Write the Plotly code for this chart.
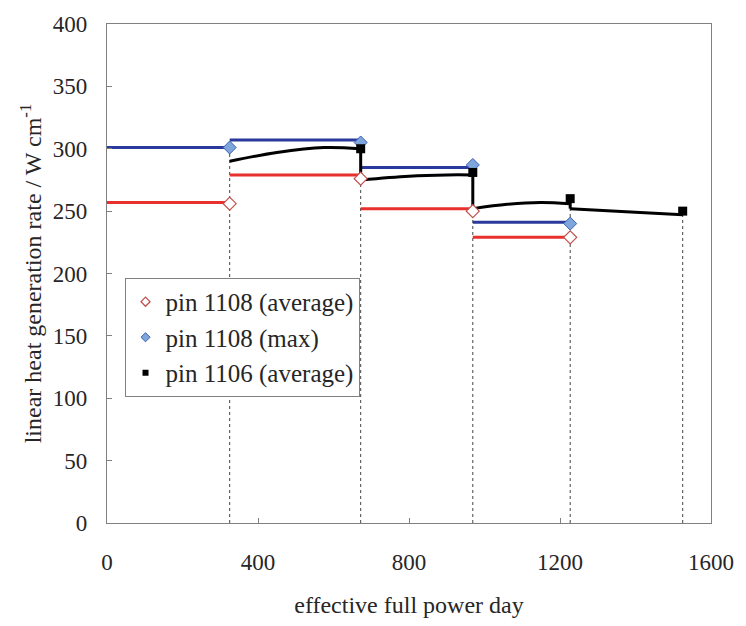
import plotly.graph_objects as go

# Irradiation periods (effective full power days)
period_start = [0, 325, 672, 969]
period_end = [325, 672, 969, 1227]

# pin 1108 linear heat generation rate per period (W/cm)
pin1108_avg = [257, 279, 252, 229]
pin1108_max = [301, 307, 285, 241]

# marker values at the end of each period
pin1108_avg_pts = [256, 276, 250, 229]
pin1108_max_pts = [301, 305, 287, 240]

# pin 1106 average: continuous curve per period
pin1106_curves_x = [
    [325, 450, 575, 672],
    [672, 800, 900, 969],
    [969, 1060, 1148, 1227],
    [1227, 1375, 1525],
]
pin1106_curves_y = [
    [290, 297, 301, 300],
    [275, 278, 279, 279],
    [252, 255.5, 257, 256],
    [252, 249.5, 247],
]
pin1106_pts_x = [672, 969, 1227, 1525]
pin1106_pts_y = [300, 281, 260, 250]

RED = "#e8302c"
BLUE = "#2a3a9c"
SERIF = "Liberation Serif, Times New Roman, serif"
TXT = "#262626"

fig = go.Figure()

# dotted drop lines at period boundaries
boundary = sorted(set(period_end + pin1106_pts_x))
dx, dy = [], []
for b in boundary:
    tops = []
    for i, e in enumerate(period_end):
        if e == b:
            tops += [pin1108_avg_pts[i], pin1108_max_pts[i]]
    for i, e in enumerate(pin1106_pts_x):
        if e == b:
            tops.append(pin1106_pts_y[i])
    dx += [b, b, None]
    dy += [0, max(tops), None]
fig.add_trace(go.Scatter(x=dx, y=dy, mode="lines", showlegend=False,
                         line=dict(color="#444444", width=1, dash="3px,3px"),
                         hoverinfo="skip"))


def step_segments(values):
    xs, ys = [], []
    for s, e, v in zip(period_start, period_end, values):
        xs += [s, e, None]
        ys += [v, v, None]
    return xs, ys


sx, sy = step_segments(pin1108_avg)
fig.add_trace(go.Scatter(x=sx, y=sy, mode="lines", showlegend=False,
                         line=dict(color=RED, width=3)))
sx, sy = step_segments(pin1108_max)
fig.add_trace(go.Scatter(x=sx, y=sy, mode="lines", showlegend=False,
                         line=dict(color=BLUE, width=3)))

# pin 1106 curves and the vertical jumps between periods
for i, (cx, cy) in enumerate(zip(pin1106_curves_x, pin1106_curves_y)):
    fig.add_trace(go.Scatter(x=cx, y=cy, mode="lines", showlegend=False,
                             line=dict(color="black", width=3, shape="spline")))
    if i + 1 < len(pin1106_curves_x):
        jx = pin1106_curves_x[i + 1][0]
        fig.add_trace(go.Scatter(x=[jx, jx],
                                 y=[pin1106_pts_y[i], pin1106_curves_y[i + 1][0]],
                                 mode="lines", showlegend=False,
                                 line=dict(color="black", width=3)))

avg_marker = dict(symbol="diamond", color="white", line=dict(color="#c0504d", width=1.2))
max_marker = dict(symbol="diamond", color="#7fa6dc", line=dict(color="#3a5fb0", width=1))
sq_marker = dict(symbol="square", color="black")

fig.add_trace(go.Scatter(x=period_end, y=pin1108_avg_pts, mode="markers",
                         showlegend=False, marker=dict(size=10, **avg_marker)))
fig.add_trace(go.Scatter(x=period_end, y=pin1108_max_pts, mode="markers",
                         showlegend=False, marker=dict(size=10, **max_marker)))
fig.add_trace(go.Scatter(x=pin1106_pts_x, y=pin1106_pts_y, mode="markers",
                         showlegend=False, marker=dict(size=9, **sq_marker)))

# legend entries with small symbols
for name, mk, sz in [("pin 1108 (average)", avg_marker, 7),
                     ("pin 1108 (max)", max_marker, 7),
                     ("pin 1106 (average)", sq_marker, 6)]:
    fig.add_trace(go.Scatter(x=[None], y=[None], mode="markers", name=name,
                             marker=dict(size=sz, **mk)))

axis_common = dict(showline=True, linecolor="#808080", linewidth=1.2, mirror=True,
                   ticks="inside", ticklen=5, tickcolor="#808080", showgrid=False,
                   zeroline=False, tickfont=dict(family=SERIF, size=23, color=TXT))

fig.update_xaxes(range=[0, 1600], tickvals=[0, 400, 800, 1200, 1600],
                 ticklabelstandoff=18,
                 title=dict(text="effective full power day", standoff=22,
                            font=dict(family=SERIF, size=24, color=TXT)),
                 **axis_common)
fig.update_yaxes(range=[0, 400], dtick=50, ticklabelstandoff=14,
                 title=dict(text="linear heat generation rate / W cm<sup>-1</sup>",
                            standoff=4,
                            font=dict(family=SERIF, size=24, color=TXT)),
                 **axis_common)

fig.update_layout(
    width=746, height=626,
    margin=dict(l=107, r=27, t=17, b=98),
    plot_bgcolor="white", paper_bgcolor="white",
    legend=dict(x=0.029, y=0.491, xanchor="left", yanchor="top",
                bgcolor="white", bordercolor="#808080", borderwidth=1,
                font=dict(family=SERIF, size=25, color=TXT),
                itemwidth=30, tracegroupgap=0),
)

fig.write_html("out.html")
